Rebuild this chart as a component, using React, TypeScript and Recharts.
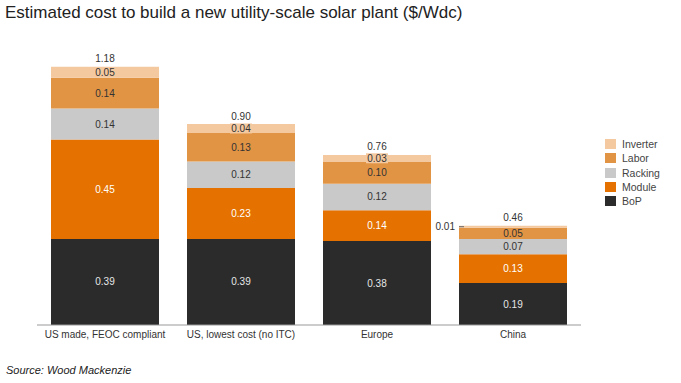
import React from "react";
import { BarChart, Bar, XAxis, YAxis, LabelList } from "recharts";

const categories = ["US made, FEOC compliant", "US, lowest cost (no ITC)", "Europe", "China"];
const bop = [0.39, 0.39, 0.38, 0.19];
const moduleCost = [0.45, 0.23, 0.14, 0.13];
const racking = [0.14, 0.12, 0.12, 0.07];
const labor = [0.14, 0.13, 0.1, 0.05];
const inverter = [0.05, 0.04, 0.03, 0.01];
const totals = [1.18, 0.9, 0.76, 0.46];

const COLORS = {
  BoP: "#2b2b2b",
  Module: "#e57200",
  Racking: "#c9c9c9",
  Labor: "#e29445",
  Inverter: "#f4c9a0",
};

const data = categories.map((c, i) => ({
  name: c,
  BoP: bop[i],
  Module: moduleCost[i],
  Racking: racking[i],
  Labor: labor[i],
  Inverter: inverter[i],
  total: totals[i],
}));

const FONT = "'Liberation Sans', Arial, Helvetica, sans-serif";
const fmt = (v: number) => v.toFixed(2);

const centerLabel = (color: string) => (props: any) => {
  const { x, y, width, height, value } = props;
  return (
    <text
      x={x + width / 2}
      y={y + height / 2 + 3.5}
      textAnchor="middle"
      fill={color}
      fontSize={10}
      fontFamily={FONT}
    >
      {fmt(Number(value))}
    </text>
  );
};

const inverterLabel = (props: any) => {
  const { x, y, width, height, value, index } = props;
  const cy = y + height / 2;
  if (index === 3) {
    return (
      <g>
        <text x={x - 4} y={cy + 3.5} textAnchor="end" fill="#333" fontSize={10} fontFamily={FONT}>
          {fmt(Number(value))}
        </text>
        <line x1={x} y1={cy} x2={x + 5} y2={cy} stroke="#666" strokeWidth={1} />
      </g>
    );
  }
  return (
    <g>
      <rect x={x + width / 2 - 11} y={cy - 5} width={22} height={10} fill={COLORS.Inverter} />
      <text x={x + width / 2} y={cy + 3.5} textAnchor="middle" fill="#333" fontSize={10} fontFamily={FONT}>
        {fmt(Number(value))}
      </text>
    </g>
  );
};

const totalLabel = (props: any) => {
  const { x, y, width, index } = props;
  return (
    <text x={x + width / 2} y={y - 4.5} textAnchor="middle" fill="#333" fontSize={10} fontFamily={FONT}>
      {fmt(totals[index])}
    </text>
  );
};

const legendItems = ["Inverter", "Labor", "Racking", "Module", "BoP"];

export default function App() {
  return (
    <div
      style={{
        position: "absolute",
        left: 0,
        top: 0,
        width: 681,
        height: 383,
        background: "#fff",
        fontFamily: FONT,
      }}
    >
      <div
        style={{
          position: "absolute",
          left: 5,
          top: 2,
          fontSize: 17,
          color: "#222",
          whiteSpace: "nowrap",
          lineHeight: "22px",
        }}
      >
        Estimated cost to build a new utility-scale solar plant ($/Wdc)
      </div>
      <div
        style={{
          position: "absolute",
          left: 6,
          top: 363,
          fontSize: 11,
          fontStyle: "italic",
          color: "#222",
          lineHeight: "14px",
        }}
      >
        Source: Wood Mackenzie
      </div>
      <div
        style={{
          position: "absolute",
          left: 605,
          top: 137,
          fontSize: 10.5,
          color: "#444",
        }}
      >
        {legendItems.map((k) => (
          <div key={k} style={{ display: "flex", alignItems: "center", height: 14.3 }}>
            <span
              style={{
                display: "inline-block",
                width: 11,
                height: 10,
                background: (COLORS as any)[k],
                marginRight: 6,
              }}
            />
            <span>{k}</span>
          </div>
        ))}
      </div>
      <div style={{ position: "absolute", left: 0, top: 0 }}>
        <BarChart
          width={681}
          height={383}
          data={data}
          margin={{ top: 60, right: 100, bottom: 28, left: 37 }}
          barSize={108}
        >
          <XAxis
            dataKey="name"
            height={30}
            tickLine={false}
            tickSize={4}
            axisLine={{ stroke: "#999" }}
            tick={{ fontSize: 10, fill: "#333", fontFamily: FONT }}
            interval={0}
          />
          <YAxis hide domain={[0, 1.2]} />
          <Bar dataKey="BoP" stackId="a" fill={COLORS.BoP} isAnimationActive={false}>
            <LabelList dataKey="BoP" content={centerLabel("#e6e6e6")} />
          </Bar>
          <Bar dataKey="Module" stackId="a" fill={COLORS.Module} isAnimationActive={false}>
            <LabelList dataKey="Module" content={centerLabel("#ffffff")} />
          </Bar>
          <Bar dataKey="Racking" stackId="a" fill={COLORS.Racking} isAnimationActive={false}>
            <LabelList dataKey="Racking" content={centerLabel("#333333")} />
          </Bar>
          <Bar dataKey="Labor" stackId="a" fill={COLORS.Labor} isAnimationActive={false}>
            <LabelList dataKey="Labor" content={centerLabel("#333333")} />
          </Bar>
          <Bar dataKey="Inverter" stackId="a" fill={COLORS.Inverter} isAnimationActive={false}>
            <LabelList dataKey="Inverter" content={inverterLabel} />
            <LabelList dataKey="total" content={totalLabel} />
          </Bar>
        </BarChart>
      </div>
    </div>
  );
}
